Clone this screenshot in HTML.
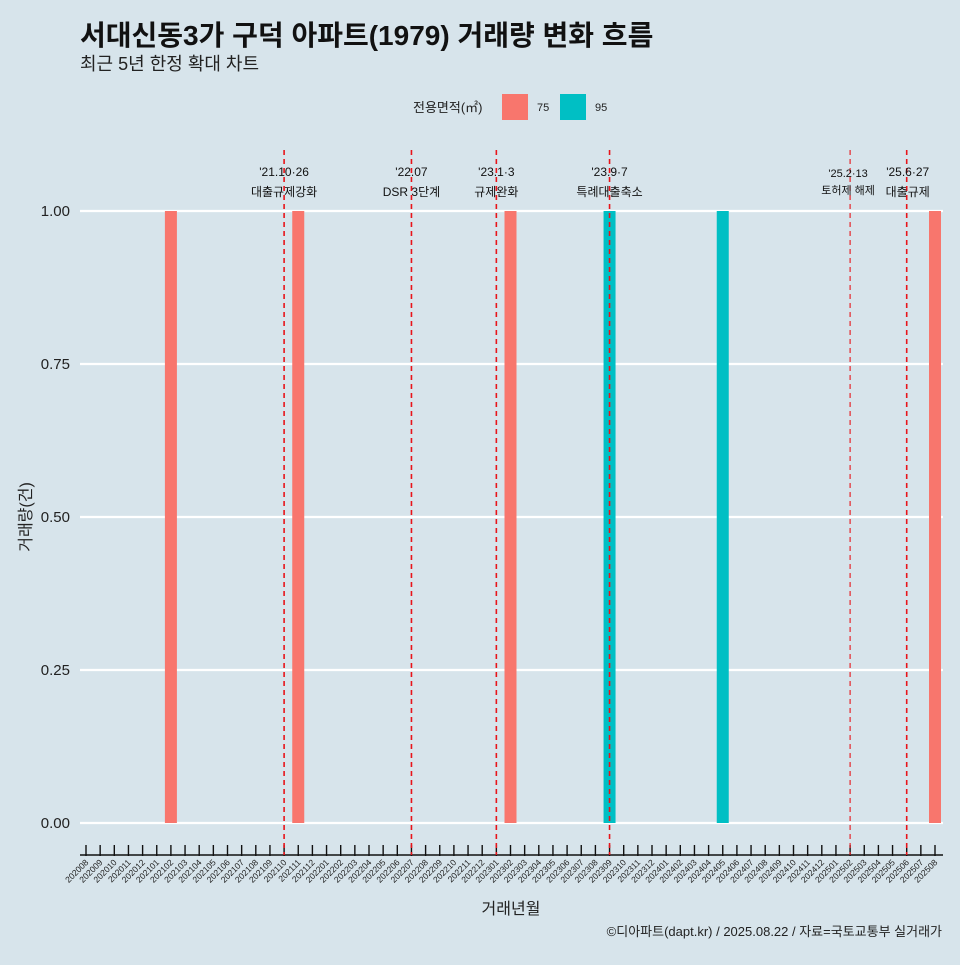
<!DOCTYPE html>
<html><head><meta charset="utf-8"><style>
body{margin:0;background:#d7e4eb;}
svg text{font-family:"Liberation Sans","Noto Sans CJK KR",sans-serif;}
</style></head><body>
<svg id="c" width="960" height="960" xmlns="http://www.w3.org/2000/svg">
<rect width="960" height="960" fill="#d7e4eb"/>
<text x="80" y="45" font-size="28" font-weight="bold" fill="#111">서대신동3가 구덕 아파트(1979) 거래량 변화 흐름</text>
<text x="80" y="70" font-size="18" fill="#222">최근 5년 한정 확대 차트</text>
<g>
<text x="413" y="112" font-size="13" fill="#222">전용면적(㎡)</text>
<rect x="502" y="94" width="26" height="26" fill="#f8766d"/>
<text x="537" y="111" font-size="11" fill="#222">75</text>
<rect x="560" y="94" width="26" height="26" fill="#00bfc4"/>
<text x="595" y="111" font-size="11" fill="#222">95</text>
</g>
<g id="plot"></g>
<text x="31" y="517" font-size="16" fill="#222" text-anchor="middle" transform="rotate(-90 31 517)">거래량(건)</text>
<text x="511" y="914" font-size="16" fill="#222" text-anchor="middle">거래년월</text>
<text x="942" y="936" font-size="13" fill="#222" text-anchor="end">©디아파트(dapt.kr) / 2025.08.22 / 자료=국토교통부 실거래가</text>
</svg>
<script>
const months=[];for(let y=2020,m=8;!(y===2025&&m>8);){months.push(''+y+(m<10?'0':'')+m);m++;if(m>12){m=1;y++;}}
const barMonths=['202102','202111','202302','202309','202405','202508'];
const barValues=[1,1,1,1,1,1];
const barAreas=['75','75','75','95','95','75'];
const yTicks=[0,0.25,0.5,0.75,1.0];
const yTickLabels=['0.00','0.25','0.50','0.75','1.00'];
const eventMonths=['202110','202207','202301','202309','202502','202506'];
const eventDates=["'21.10·26","'22.07","'23.1·3","'23.9·7","'25.2·13","'25.6·27"];
const eventLabels=['대출규제강화','DSR 3단계','규제완화','특례대출축소','토허제 해제','대출규제'];
const colors={'75':'#f8766d','95':'#00bfc4'};
const NS='http://www.w3.org/2000/svg';
const g=document.getElementById('plot');
const x=m=>86+months.indexOf(m)*14.15;
const y=v=>823-v*612;
function mk(t,a){const e=document.createElementNS(NS,t);for(const k in a)e.setAttribute(k,a[k]);g.appendChild(e);return e;}
yTicks.forEach((v,i)=>{
 const l=mk('line',{x1:80,x2:943,y1:y(v),y2:y(v),stroke:'#fff','stroke-width':2.2});
 
 
 const t=mk('text',{x:70,y:y(v)+5,'font-size':15,fill:'#222','text-anchor':'end'});t.textContent=yTickLabels[i];
 
 
});
barMonths.forEach((m,i)=>{
 const r=mk('rect',{x:x(m)-6,y:y(barValues[i]),width:12,height:y(0)-y(barValues[i]),fill:colors[barAreas[i]]});
 
 
});
const ax=mk('line',{x1:80,x2:943,y1:855,y2:855,stroke:'#111','stroke-width':1.5});


months.forEach(m=>{
 const tk=mk('line',{x1:x(m),x2:x(m),y1:845,y2:856,stroke:'#111','stroke-width':1.4});
 
 
 const t=mk('text',{x:x(m)+3,y:863,'font-size':8.6,fill:'#222','text-anchor':'end',transform:`rotate(-45 ${x(m)+3} 863)`});t.textContent=m;
 
 
});
eventMonths.forEach((m,i)=>{
 const thin=m==='202502';
 const l=mk('line',{x1:x(m),x2:x(m),y1:150,y2:855,stroke:'#e8141a','stroke-width':thin?1.1:1.6,'stroke-dasharray':'5 4'});
 
 
 const cx=m==='202502'?x(m)-2:(m==='202506'?x(m)+1:x(m));
 const t1=mk('text',{x:cx,y:thin?177:176,'font-size':thin?11:12,fill:'#111','text-anchor':'middle'});t1.textContent=eventDates[i];
 
 
 const t2=mk('text',{x:cx,y:thin?194:196,'font-size':thin?11:12,fill:'#111','text-anchor':'middle'});t2.textContent=eventLabels[i];
 
 
});
</script>
</body></html>
